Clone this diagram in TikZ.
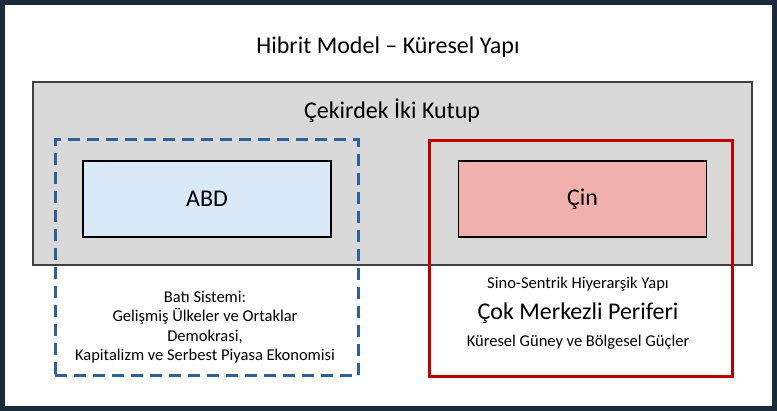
\documentclass[tikz,border=0pt]{standalone}
\usepackage{fontspec}
\setmainfont{Carlito}
\usetikzlibrary{positioning}
\definecolor{navy}{HTML}{1C2B3A}
\definecolor{corebg}{HTML}{D9D9D9}
\definecolor{usbg}{HTML}{DAE9F8}
\definecolor{cnbg}{HTML}{F0B0AE}
\definecolor{westblue}{HTML}{2E609A}
\definecolor{eastred}{HTML}{C00000}
\begin{document}
\begin{tikzpicture}[
		x=1pt,
		y=-1pt,
		font=\fontsize{16.5pt}{19pt}\selectfont,
	]
		\tikzset{pole/.style={
			draw=black,
			line width=1.2,
			rectangle,
			minimum width=248,
			minimum height=76,
			font=\fontsize{24pt}{26pt}\selectfont,
		}}
		\tikzset{sphere/.style={
			rectangle,
			line width=3,
			minimum width=303,
			minimum height=236,
		}}

		% frame and background
		\draw[navy,line width=5,fill=white] (2.5,2.5) rectangle (774.5,408.5);

		\node[font=\fontsize{24pt}{26pt}\selectfont] (title) at (388,47) {Hibrit Model – Küresel Yapı};

		\node[draw=black!75,fill=corebg,line width=1.2,rectangle,
			minimum width=719,minimum height=183] (core) at (392.5,173.5) {};
		\node[font=\fontsize{24pt}{26pt}\selectfont] (corelabel) at (392,111) {Çekirdek İki Kutup};

		\node[pole,fill=usbg] (usa) at (207,199) {ABD};
		\node[pole,fill=cnbg] (china) at (582.5,199) {Çin};

		\node[sphere,draw=westblue,dash pattern=on 12pt off 7pt] (west) at (206.5,258) {};
		\node[sphere,draw=eastred] (east) at (580.5,258.5) {};

		\node[align=center,font=\fontsize{16.5pt}{19.5pt}\selectfont] (westtext) at (205,327)
			{Batı Sistemi:\\Gelişmiş Ülkeler ve Ortaklar\\Demokrasi,\\Kapitalizm ve Serbest Piyasa Ekonomisi};

		\node (sino) at (578,284) {Sino-Sentrik Hiyerarşik Yapı};
		\node[font=\fontsize{24pt}{26pt}\selectfont] (periph) at (578,313) {Çok Merkezli Periferi};
		\node (south) at (578,342) {Küresel Güney ve Bölgesel Güçler};
	\end{tikzpicture}
\end{document}
